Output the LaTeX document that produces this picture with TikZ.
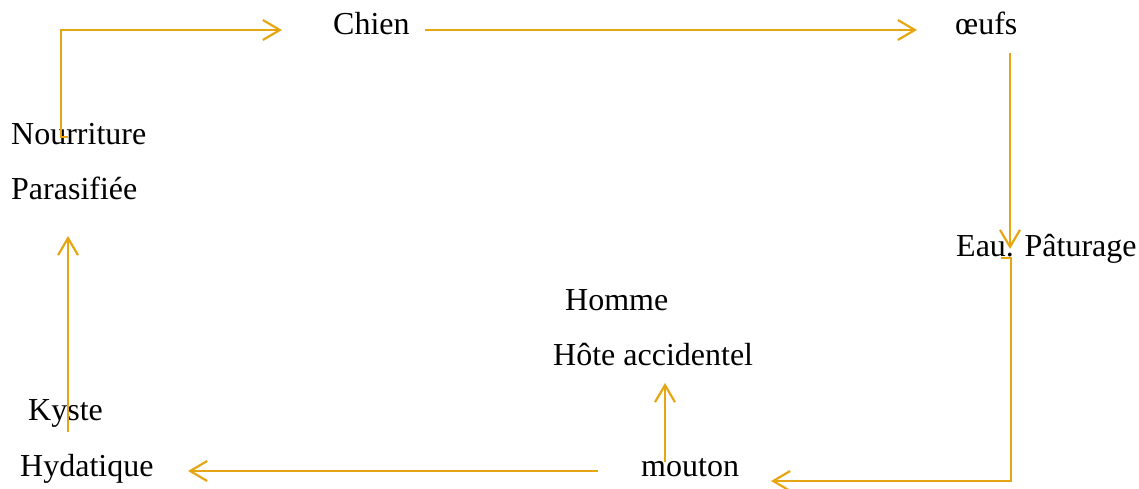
\documentclass[tikz,border=0pt]{standalone}
\usepackage{fontspec}
\setmainfont{Liberation Serif}
\usetikzlibrary{arrows.meta}
\definecolor{cycle}{RGB}{230,166,20}
\tikzset{
  lbl/.style={anchor=base west, inner sep=0pt, font=\fontsize{32}{38}\selectfont},
  flow/.style={draw=cycle, line width=2.2pt, -{Straight Barb[length=17pt,width=20pt,line width=2.2pt]}},
  plain/.style={draw=cycle, line width=2.2pt}
}
\begin{document}
\begin{tikzpicture}[x=1pt,y=-1pt]
\useasboundingbox (0,0) rectangle (1139,489);
% life-cycle stages
\node[lbl] (chien) at (333,35) {Chien};
\node[lbl] (oeufs) at (955,35) {œufs};
\node[lbl] (nour) at (11,145) {Nourriture};
\node[lbl] (para) at (11,199) {Parasifiée};
\node[lbl] (eau) at (956,256) {Eau. Pâturage};
\node[lbl] (homme) at (565,310) {Homme};
\node[lbl] (hote) at (553,365) {Hôte accidentel};
\node[lbl] (kyste) at (28,420) {Kyste};
\node[lbl] (hyda) at (20,476) {Hydatique};
\node[lbl] (mouton) at (641,476) {mouton};
% connector end points
\coordinate (nourS) at (68,137);
\coordinate (nourC) at (61,137);
\coordinate (chienW) at (282,30);
\coordinate (chienE) at (425,30);
\coordinate (oeufsW) at (917,30);
\coordinate (oeufsS) at (1010,53);
\coordinate (eauN) at (1010,249);
\coordinate (eauS) at (1001,258);
\coordinate (eauC) at (1011,258);
\coordinate (moutonE) at (771,481);
\coordinate (moutonW) at (598,471);
\coordinate (hydaE) at (188,471);
\coordinate (moutonN) at (665,462);
\coordinate (hoteS) at (665,383);
\coordinate (kysteN) at (68,432);
\coordinate (paraS) at (68,236);
% cycle arrows
\draw[flow] (nourS) -- (nourC) |- (chienW);
\draw[flow] (chienE) -- (oeufsW);
\draw[flow] (oeufsS) -- (eauN);
\draw[flow] (eauS) -- (eauC) |- (moutonE);
\draw[flow] (moutonW) -- (hydaE);
\draw[flow] (moutonN) -- (hoteS);
\draw[flow] (kysteN) -- (paraS);
\end{tikzpicture}
\end{document}
